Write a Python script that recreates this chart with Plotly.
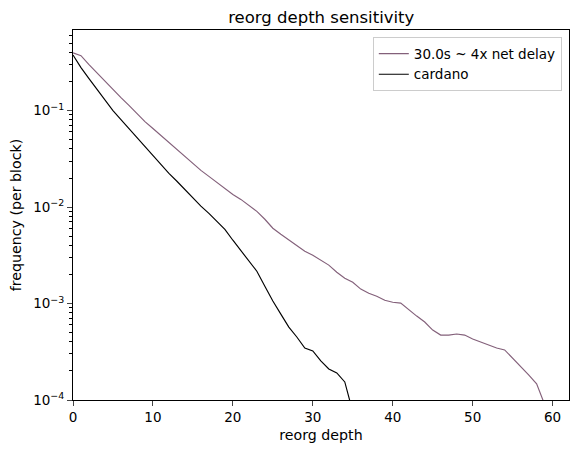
import plotly.graph_objects as go

depth_30s = list(range(0, 60))
freq_30s = [0.396, 0.371, 0.299, 0.244, 0.200, 0.165, 0.136, 0.113, 0.0931, 0.0769,
            0.0651, 0.0551, 0.0467, 0.0395, 0.0334, 0.0283, 0.0240, 0.0208, 0.0180, 0.0156,
            0.0135, 0.0120, 0.0104, 0.00903, 0.00747, 0.00603, 0.00522, 0.00453, 0.00393, 0.00348,
            0.00317, 0.00281, 0.00250, 0.00211, 0.00183, 0.00166, 0.00141, 0.00128, 0.00119, 0.00108,
            0.00103, 0.00101, 0.000855, 0.000741, 0.000643, 0.000531, 0.000471, 0.000471, 0.000483, 0.000471,
            0.000429, 0.000399, 0.000372, 0.000346, 0.000330, 0.000272, 0.000220, 0.000182, 0.000147, 0.000090]

depth_cardano = list(range(0, 36))
freq_cardano = [0.377, 0.279, 0.214, 0.165, 0.130, 0.100, 0.0807, 0.0651, 0.0526, 0.0424,
                0.0343, 0.0277, 0.0223, 0.0185, 0.0152, 0.0126, 0.0102, 0.00861, 0.00712, 0.00588,
                0.00453, 0.00357, 0.00274, 0.00216, 0.00151, 0.00106, 0.000777, 0.000570, 0.000450, 0.000346,
                0.000322, 0.000254, 0.000210, 0.000191, 0.000154, 0.0000754]

ytick_vals = [1e-4, 1e-3, 1e-2, 1e-1]
ytick_text = ["10<sup>−4</sup>", "10<sup>−3</sup>", "10<sup>−2</sup>", "10<sup>−1</sup>"]
yminor_vals = [m * d for d in [1e-4, 1e-3, 1e-2, 1e-1] for m in range(2, 10)]
xtick_vals = [0, 10, 20, 30, 40, 50, 60]

fig = go.Figure()
fig.add_trace(go.Scatter(x=depth_30s, y=freq_30s, mode="lines", name="30.0s ~ 4x net delay",
                         line=dict(color="#83607a", width=1.15)))
fig.add_trace(go.Scatter(x=depth_cardano, y=freq_cardano, mode="lines", name="cardano",
                         line=dict(color="black", width=1.15)))

font = dict(family="DejaVu Sans", size=13.5, color="black")
title_font = dict(family="DejaVu Sans", size=14.2, color="black")
fig.update_layout(
    width=578, height=453,
    margin=dict(l=73, r=8.5, t=30, b=53),
    paper_bgcolor="white", plot_bgcolor="white",
    font=font,
    title=dict(text="reorg depth sensitivity", x=(73 + 569.5) / 2 / 578, xanchor="center",
               y=1 - 17 / 453, yanchor="middle", font=dict(family="DejaVu Sans", size=16.5)),
    showlegend=True,
    legend=dict(x=0.9855, y=0.980, xanchor="right", yanchor="top",
                bgcolor="rgba(255,255,255,0.8)", bordercolor="#cccccc", borderwidth=1,
                font=dict(family="DejaVu Sans", size=13.5), itemwidth=30,
                tracegroupgap=0),
)
fig.update_xaxes(range=[0, 62.05], tickvals=xtick_vals, ticks="outside", ticklen=5, tickwidth=1.1,
                 showline=True, linecolor="black", linewidth=1.1, mirror=True, showgrid=False,
                 zeroline=False, title=dict(text="reorg depth", standoff=5, font=title_font),
                 tickfont=font)
fig.update_yaxes(type="log", range=[-4, -0.165], tickvals=ytick_vals, ticktext=ytick_text,
                 ticks="outside", ticklen=5, tickwidth=1.1,
                 showline=True, linecolor="black", linewidth=1.1, mirror=True, showgrid=False,
                 zeroline=False, title=dict(text="frequency (per block)", standoff=8, font=title_font),
                 tickfont=font,
                 minor=dict(ticks="outside", ticklen=2.8, tickwidth=0.8, tickvals=yminor_vals,
                            tickcolor="black", showgrid=False))

fig.write_html("out.html")
